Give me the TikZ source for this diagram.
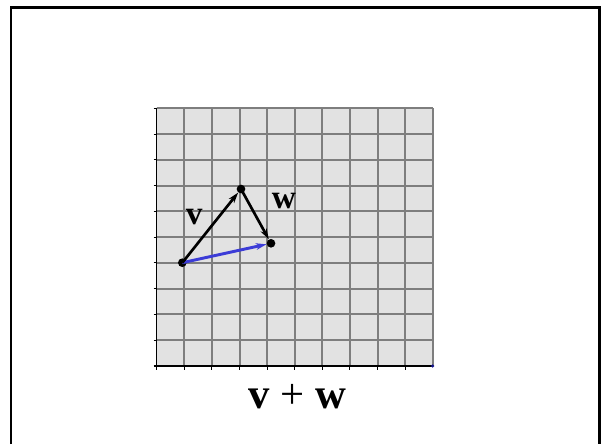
\documentclass[tikz,border=0pt]{standalone}
\usepackage{fontspec}
\setmainfont{Liberation Serif}
\usetikzlibrary{arrows.meta}
\definecolor{gridfill}{HTML}{E2E2E2}
\definecolor{gridline}{HTML}{7E7E7E}
\definecolor{sumblue}{RGB}{60,60,215}
\definecolor{dotblue}{RGB}{20,20,140}
\tikzset{
  frameline/.style={line width=1.9pt, black},
  gridln/.style={line width=1.5pt, gridline},
  axisln/.style={line width=0.8pt, black},
  vecdot/.style={circle, fill=black, inner sep=0pt, minimum size=6.5pt},
  vecarrow/.style={line width=2pt, black, -{Stealth[length=8pt,width=5pt,inset=2.5pt]}},
  sumarrow/.style={line width=2.2pt, sumblue, -{Stealth[length=8pt,width=5pt,inset=2.5pt]}},
  veclabel/.style={anchor=base, inner sep=0pt, font=\fontsize{25}{30}\selectfont\bfseries},
  sumlabel/.style={anchor=base, inner sep=0pt, font=\fontsize{32}{38}\selectfont}
}
\begin{document}
\begin{tikzpicture}[x=0.75pt,y=-0.75pt]
\useasboundingbox (0,0) rectangle (602,444);
% frame
\draw[frameline] (11,444) -- (11,7.5) -- (599.7,7.5) -- (599.7,444);
% grid
\fill[gridfill] (156.7,108.3) rectangle (432.7,366);
\foreach \i in {1,...,10} {
  \draw[gridln] ({156.7+\i*27.6},108.3) -- ({156.7+\i*27.6},366);
}
\foreach \j in {0,...,9} {
  \draw[gridln] (156.7,{108.3+\j*25.77}) -- (432.7,{108.3+\j*25.77});
}
% axes and ticks
\draw[axisln] (156.7,107.5) -- (156.7,366) -- (432.7,366);
\foreach \j in {0,...,10} {
  \draw[axisln] (153.5,{108.3+\j*25.77}) -- (156.7,{108.3+\j*25.77});
}
\foreach \i in {0,...,9} {
  \draw[axisln] ({156.7+\i*27.6},366) -- ({156.7+\i*27.6},369.5);
}
\node[circle, fill=dotblue, inner sep=0pt, minimum size=2.6pt] (O) at (432.7,366) {};
% points
\node[vecdot] (A) at (182.3,262.7) {};
\node[vecdot] (B) at (241,189) {};
\node[vecdot] (C) at (271,243.3) {};
% vectors
\draw[sumarrow] (A.center) -- (C);
\draw[vecarrow] (A.center) -- (B);
\draw[vecarrow] (B.center) -- (C);
% labels
\node[veclabel] (lv) at (194.2,224.3) {v};
\node[veclabel] (lw) at (283.8,208.3) {w};
\node[sumlabel] (lsum) at (297.5,408) {\textbf{v} + \textbf{w}};
\end{tikzpicture}
\end{document}
